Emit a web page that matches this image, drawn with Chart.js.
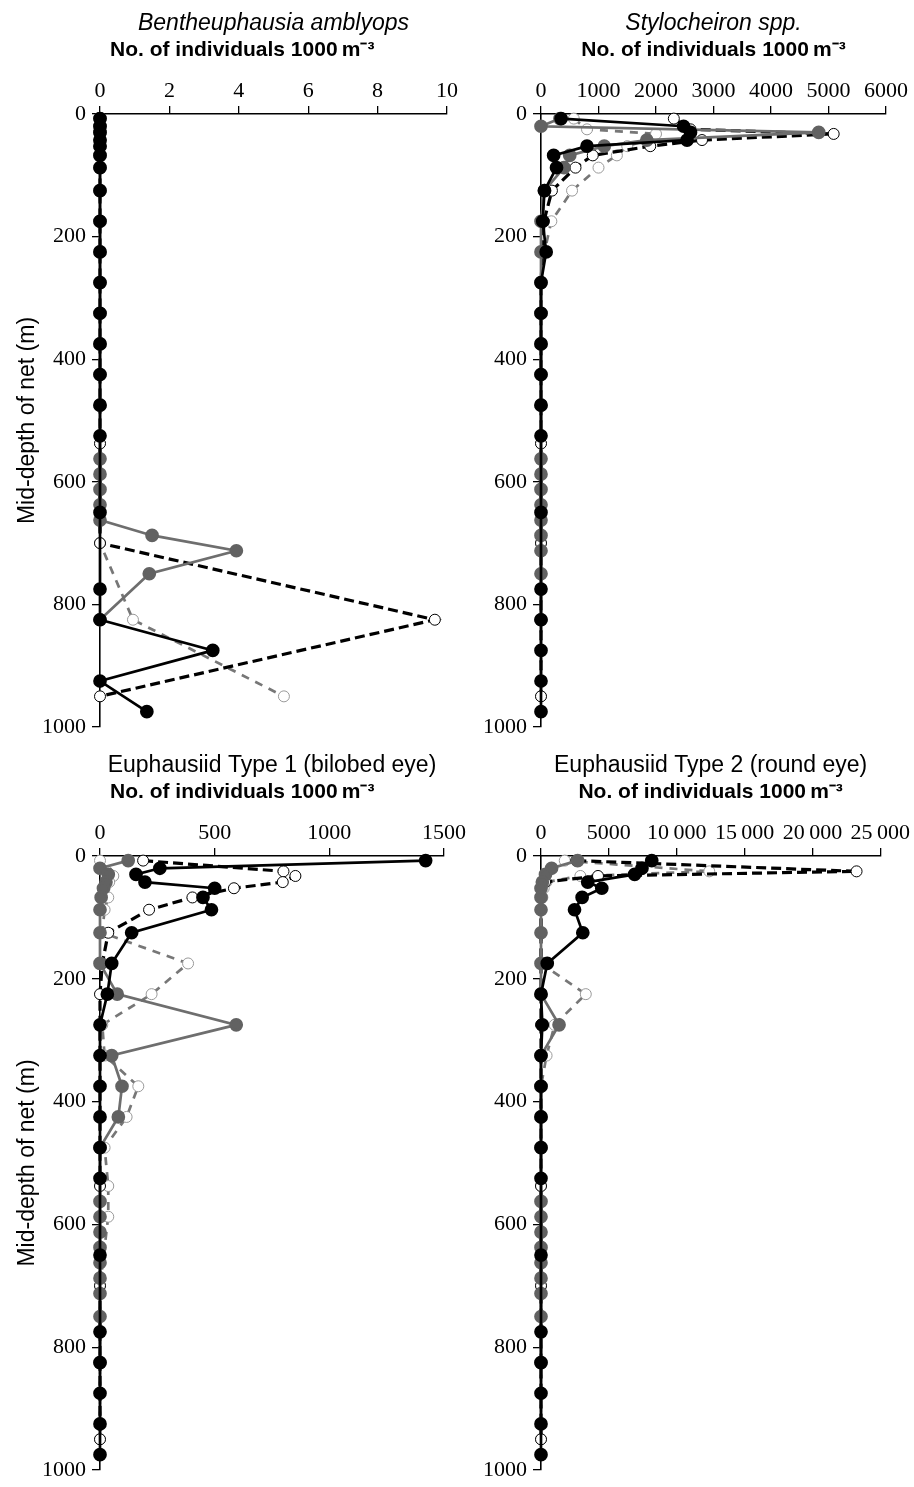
<!DOCTYPE html>
<html>
<head>
<meta charset="utf-8">
<script src="https://cdn.jsdelivr.net/npm/chart.js@4.4.0/dist/chart.umd.min.js"></script>
<style>
  body { margin: 0; background: #fff; width: 914px; height: 1487px; position: relative; overflow: hidden; }
  canvas { position: absolute; }
</style>
</head>
<body>
<canvas id="p1" width="470" height="744" style="left:0;top:0"></canvas>
<canvas id="p2" width="444" height="744" style="left:470px;top:0"></canvas>
<canvas id="p3" width="470" height="745" style="left:0;top:742px"></canvas>
<canvas id="p4" width="444" height="745" style="left:470px;top:742px"></canvas>
<script>
// profondeurs (m) de chaque serie
const depthA = [7.5, 20, 30, 42.5, 52.5, 67.5, 87.5, 125, 175, 225, 275, 325, 375, 425, 475, 525, 650, 775, 825, 875, 925, 975];
const depthB = [7.5, 25, 32.5, 42.5, 52.5, 67.5, 87.5, 125, 175, 225, 275, 325, 375, 425, 475, 537.5, 587.5, 700, 825, 950];
const depthC = [7.5, 20, 30, 42.5, 52.5, 67.5, 87.5, 125, 175, 225, 275, 325, 375, 425, 475, 562.5, 587.5, 612.5, 637.5, 662.5, 687.5, 712.5, 750, 825];
const depthD = [7.5, 25, 32.5, 42.5, 52.5, 67.5, 87.5, 125, 175, 225, 275, 325, 375, 425, 475, 537.5, 587.5, 700, 825, 950];

// Bentheuphausia amblyops
const benA = [0,0,0,0,0,0,0,0,0,0,0,0,0,0,0,0,0,0,0,3.25,0,1.35];
const benB = [0,0,0,0,0,0,0,0,0,0,0,0,0,0,0,0,0,0,9.65,0];
const benC = [0,0,0,0,0,0,0,0,0,0,0,0,0,0,0,0,0,0,0,0,1.5,3.93,1.42,0];
const benD = [0,0,0,0,0,0,0,0,0,0,0,0,0,0,0,0,0,0,0.95,5.3];

// Stylocheiron spp.
const styA = [350,2480,2600,2540,800,220,270,60,30,90,0,0,0,0,0,0,0,0,0,0,0,0];
const styB = [2310,2600,5090,2800,1900,900,600,190,50,30,0,0,0,0,0,0,0,0,0,0];
const styC = [330,0,4830,1840,1100,500,400,60,0,0,0,0,0,0,0,0,0,0,0,0,0,0,0,0];
const styD = [570,800,2000,1850,1500,1320,1000,540,180,60,0,0,0,0,0,0,0,0,0,0];

// Euphausiid Type 1
const t1A = [1420,261,157,196,500,449,486,138,51,32,0,0,0,0,0,0,0,0,0,0,0,0];
const t1B = [188,800,852,797,584,403,214,36,10,0,0,0,0,0,0,0,0,0,0,0];
const t1C = [123,0,36,26,15,5,0,0,0,75,594,51,96,80,0,0,0,0,0,0,0,0,0,0];
const t1D = [0,30,58,40,20,36,20,10,384,225,10,20,167,116,20,36,36,0,0,0];

// Euphausiid Type 2
const t2A = [8160,7440,6900,3440,4480,3030,2470,3080,460,0,100,0,0,0,0,0,0,0,0,0,0,0];
const t2B = [2600,23250,4200,300,0,0,0,0,0,0,0,0,0,0,0,0,0,0,0,0];
const t2C = [2700,780,330,100,0,0,0,0,0,0,1330,0,0,0,0,0,0,0,0,0,0,0,0,0];
const t2D = [1750,12400,2900,400,200,100,0,0,0,3300,1000,410,0,0,0,0,0,0,0,0];

const uniteX = 'No. of individuals 1000\u2009m\u207B\u00B3';
const depthTicks = [0, 200, 400, 600, 800, 1000];

const pts = (depths, vals) => vals.map((v, i) => ({ x: v, y: depths[i] }));

const gris = '#626262';

function series(a, b, c, d) {
  return [
    { data: pts(depthA, a), order: 0, borderColor: '#000', borderWidth: 2.7,
      pointBackgroundColor: '#000', pointBorderColor: '#000', pointRadius: 5.5 },
    { data: pts(depthB, b), order: 2, borderColor: '#000', borderWidth: 3.2, borderDash: [10, 5],
      pointBackgroundColor: '#fff', pointBorderColor: '#000', pointBorderWidth: 1, pointRadius: 5.5 },
    { data: pts(depthC, c), order: 1, borderColor: '#6e6e6e', borderWidth: 2.7,
      pointBackgroundColor: gris, pointBorderColor: gris, pointRadius: 5.5 },
    { data: pts(depthD, d), order: 3, borderColor: '#777', borderWidth: 2.7, borderDash: [8, 7],
      pointBackgroundColor: '#fff', pointBorderColor: '#999', pointBorderWidth: 1, pointRadius: 5.5 }
  ].map(s => Object.assign(s, { showLine: true, fill: false, tension: 0, clip: false }));
}

// petit decalage horizontal de la ligne des unites (panneaux de gauche)
const decalage = {
  id: 'decalage',
  afterLayout(chart, args, opts) {
    if (!opts.dx) return;
    chart.boxes.forEach(b => {
      if (b.options && b.options.text === uniteX) { b.left += opts.dx; b.right += opts.dx; }
    });
  }
};

function panneau(id, titre, italique, xmax, pas, gauche, sets, fmt) {
  const cw = document.getElementById(id).width;
  const ch = document.getElementById(id).height;
  const left = gauche ? 100 : 71;
  const right = gauche ? cw - 447 : cw - 416;
  new Chart(id, {
    type: 'scatter',
    data: { datasets: sets },
    plugins: [decalage],
    options: {
      responsive: false,
      animation: false,
      layout: { autoPadding: false, padding: { left: 0, top: 0, right: right, bottom: ch - 733 } },
      plugins: {
        legend: { display: false },
        tooltip: { enabled: false },
        decalage: { dx: gauche ? 10 : 0 },
        title: {
          display: true, text: titre, color: '#000', fullSize: false,
          font: { family: 'Liberation Sans', size: 23, lineHeight: 1.2, style: italique ? 'italic' : 'normal', weight: 'normal' },
          padding: { top: 10, bottom: 0 }
        },
        subtitle: {
          display: true, text: uniteX, color: '#000', fullSize: false, align: gauche ? 'start' : 'center',
          font: { family: 'Liberation Sans', size: 21, lineHeight: 1.2, weight: 'bold' },
          padding: { top: 0, bottom: 0 }
        }
      },
      scales: {
        x: {
          type: 'linear', position: 'top', min: 0, max: xmax,
          afterFit: s => { s.height = 51.2; },
          ticks: { stepSize: pas, color: '#000', padding: 4, maxRotation: 0,
                   font: { family: 'Liberation Serif', size: 22, lineHeight: 1 },
                   callback: v => fmt ? fmt(v) : String(v) },
          grid: { drawOnChartArea: false, drawTicks: true, tickLength: 8, color: '#000', lineWidth: 1.3 },
          border: { color: '#000', width: 1.6 }
        },
        y: {
          type: 'linear', reverse: true, min: 0, max: 1000,
          afterFit: s => { s.width = left; },
          afterBuildTicks: s => { s.ticks = depthTicks.map(v => ({ value: v })); },
          ticks: { color: '#000', padding: 6, callback: v => String(v),
                   font: { family: 'Liberation Serif', size: 22, lineHeight: 1 } },
          grid: { drawOnChartArea: false, drawTicks: true, tickLength: 8, color: '#000', lineWidth: 1.3 },
          border: { color: '#000', width: 1.6 },
          title: { display: gauche, text: 'Mid-depth of net (m)', color: '#000',
                   font: { family: 'Liberation Sans', size: 23, lineHeight: 1.2 }, padding: { top: 14, bottom: 0 } }
        }
      }
    }
  });
}

const milliers = v => v >= 10000 ? String(v).replace(/(\d{2})(\d{3})$/, '$1\u2009$2') : String(v);

panneau('p1', 'Bentheuphausia amblyops', true, 10, 2, true, series(benA, benB, benC, benD));
panneau('p2', 'Stylocheiron spp.', true, 6000, 1000, false, series(styA, styB, styC, styD));
panneau('p3', 'Euphausiid Type 1 (bilobed eye)', false, 1500, 500, true, series(t1A, t1B, t1C, t1D));
panneau('p4', 'Euphausiid Type 2 (round eye)', false, 25000, 5000, false, series(t2A, t2B, t2C, t2D), milliers);
</script>
</body>
</html>
